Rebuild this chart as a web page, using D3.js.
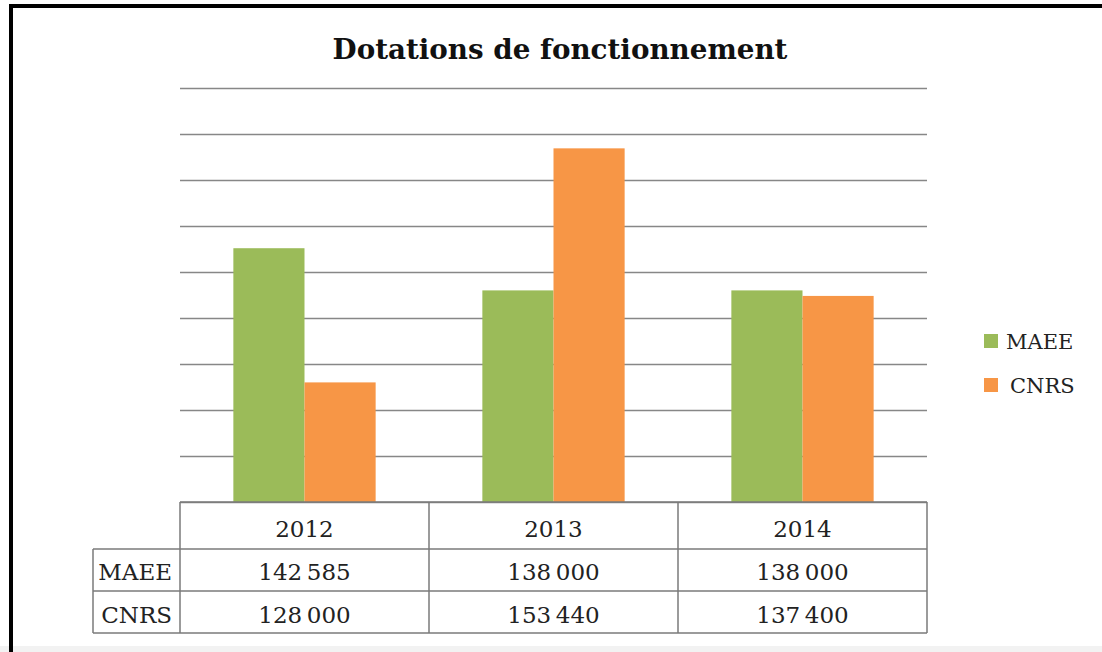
<!DOCTYPE html>
<html>
<head>
<meta charset="utf-8">
<script src="https://cdn.jsdelivr.net/npm/d3@7"></script>
<style>
  body { margin: 0; background: #fff; }
  svg { display: block; }
</style>
</head>
<body>
<svg id="chart" width="1102" height="652"></svg>
<script>
const years = ["2012", "2013", "2014"];
const series = ["MAEE", "CNRS"];
const maee = [142585, 138000, 138000];
const cnrs = [128000, 153440, 137400];
const colors = ["#9bbb59", "#f79646"];
const title = "Dotations de fonctionnement";

const values = [maee, cnrs];
const fr = d3.formatLocale({ decimal: ",", thousands: "\u2009", grouping: [3], currency: ["", " €"] });
const fmt = fr.format(",d");

const svg = d3.select("#chart");
const W = 1102, H = 652;
const serif = "'DejaVu Serif', 'Liberation Serif', serif";

svg.append("rect").attr("width", W).attr("height", H).attr("fill", "#fff");
// faint scan band at the bottom
svg.append("rect").attr("x", 0).attr("y", 646).attr("width", W).attr("height", 6).attr("fill", "#f2f2f2");

// frame (only top and left edges are visible in the crop)
svg.append("rect").attr("x", 9).attr("y", 4).attr("width", W).attr("height", 4).attr("fill", "#000");
svg.append("rect").attr("x", 9).attr("y", 4).attr("width", 4).attr("height", H).attr("fill", "#000");

const plotL = 180, plotR = 927, plotT = 88, plotB = 502;

const x = d3.scaleBand().domain(years).range([plotL, plotR]);
const xi = d3.scaleBand().domain(series).range([0, x.bandwidth()]).paddingInner(0).paddingOuter(0.75);
const y = d3.scaleLinear().domain([115000, 160000]).range([plotB, plotT]);

// gridlines
const grid = svg.append("g").attr("transform", `translate(${plotL},0)`)
  .call(d3.axisLeft(y).ticks(9).tickSize(-(plotR - plotL)).tickFormat(""));
grid.select(".domain").remove();
grid.selectAll(".tick line").attr("stroke", "#878787").attr("stroke-width", 1.6);

// bars
series.forEach((s, si) => {
  svg.append("g").selectAll("rect").data(years).enter().append("rect")
    .attr("x", d => x(d) + xi(s))
    .attr("y", (d, i) => y(values[si][i]))
    .attr("width", xi.bandwidth())
    .attr("height", (d, i) => plotB - y(values[si][i]))
    .attr("fill", colors[si]);
});

// title
const t = svg.append("text").attr("x", 560).attr("y", 59).attr("text-anchor", "middle")
  .attr("font-family", serif).attr("font-weight", "bold").attr("font-size", 24)
  .attr("fill", "#111").text(title);
const tw = t.node().getComputedTextLength();
t.attr("font-size", 24 * 455 / tw);

// data table
const rowTops = [502, 549, 591, 633];
const labelL = 93;
const lineCol = "#7a7a7a";
const tbl = svg.append("g").attr("stroke", lineCol).attr("stroke-width", 1.5).attr("fill", "none");
tbl.append("line").attr("x1", plotL).attr("x2", plotR).attr("y1", rowTops[0]).attr("y2", rowTops[0]);
rowTops.slice(1).forEach(r => tbl.append("line").attr("x1", labelL).attr("x2", plotR).attr("y1", r).attr("y2", r));
tbl.append("line").attr("x1", labelL).attr("x2", labelL).attr("y1", rowTops[1]).attr("y2", rowTops[3]);
years.forEach(yr => tbl.append("line").attr("x1", x(yr)).attr("x2", x(yr)).attr("y1", rowTops[0]).attr("y2", rowTops[3]));
tbl.append("line").attr("x1", plotR).attr("x2", plotR).attr("y1", rowTops[0]).attr("y2", rowTops[3]);

const tg = svg.append("g").attr("font-family", serif).attr("font-size", 23).attr("fill", "#222");
tg.selectAll(".yr").data(years).enter().append("text")
  .attr("x", d => x(d) + x.bandwidth() / 2).attr("y", 537).attr("text-anchor", "middle").text(d => d);
const baselines = [580, 623];
series.forEach((s, si) => {
  tg.append("text").attr("x", 172).attr("y", baselines[si]).attr("text-anchor", "end").text(s);
  tg.selectAll(".v" + si).data(years).enter().append("text")
    .attr("x", d => x(d) + x.bandwidth() / 2).attr("y", baselines[si]).attr("text-anchor", "middle")
    .text((d, i) => fmt(values[si][i]));
});

// legend
const leg = svg.append("g").attr("font-family", serif).attr("font-size", 21).attr("fill", "#222");
const legY = [341, 385];
series.forEach((s, si) => {
  leg.append("rect").attr("x", 984).attr("y", legY[si] - 7).attr("width", 14).attr("height", 14).attr("fill", colors[si]);
  leg.append("text").attr("x", 1006 + si * 4).attr("y", legY[si] + 8).text(s);
});
</script>
</body>
</html>
